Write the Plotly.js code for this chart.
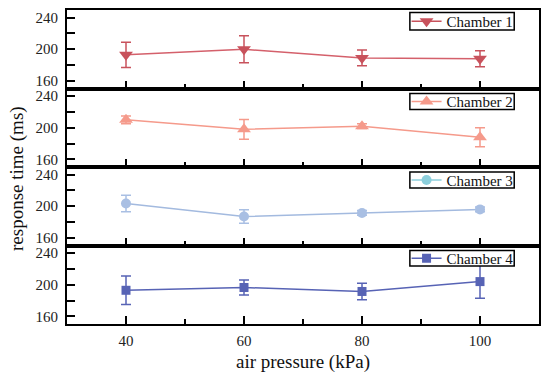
<!DOCTYPE html>
<html>
<head>
<meta charset="utf-8">
<script src="https://cdn.plot.ly/plotly-3.0.1.min.js"></script>
<style>html,body{margin:0;padding:0;background:#fff;}#chart{width:550px;height:383px;}</style>
</head>
<body>
<div id="chart"></div>
<script>
// Data
const pressure = [40, 60, 80, 100];
const chamberNames = ["Chamber 1", "Chamber 2", "Chamber 3", "Chamber 4"];
const chamber1 = [193, 200, 189, 188];
const chamber1Err = [16, 17, 10, 10];
const chamber2 = [210, 198, 202, 188];
const chamber2Err = [5, 12.5, 3, 12];
const chamber3 = [203.5, 187, 191.5, 196];
const chamber3Err = [10.5, 8.5, 3, 3];
const chamber4 = [193, 196.5, 191.5, 204];
const chamber4Err = [18, 9.5, 10.5, 21];
const yTickVals = [160, 200, 240];

const font = "Liberation Serif";
const series = [
  {y: chamber1, e: chamber1Err, color: "#c8525c", line: "#d4606b", legendColor: "#c8525c", symbol: "triangle-down", size: 12},
  {y: chamber2, e: chamber2Err, color: "#f59a8b", line: "#f59a8b", legendColor: "#f59a8b", symbol: "triangle-up", size: 12},
  {y: chamber3, e: chamber3Err, color: "#a9bfe3", line: "#a3badf", legendColor: "#8ccfdc", symbol: "circle", size: 10},
  {y: chamber4, e: chamber4Err, color: "#5763b5", line: "#5763b5", legendColor: "#5763b5", symbol: "square", size: 9}
];

// panel domains (paper fractions, plot area spans full top)
const domains = [[0.72685, 0.96914], [0.48457, 0.72685], [0.24228, 0.48457], [0, 0.24228]];
// legend frame boxes (paper fractions) and legend anchor tops
const boxX = [0.7264, 0.9475];
const boxY = [[0.90741, 0.96142], [0.66204, 0.71142], [0.41975, 0.46914], [0.17901, 0.22685]];
const legendTop = [0.98457, 0.73688, 0.49460, 0.25309];

const traces = [];
const layout = {
  width: 550, height: 383,
  margin: {l: 67, r: 11, t: 0, b: 59},
  paper_bgcolor: "#fff", plot_bgcolor: "#fff",
  font: {family: font, size: 15, color: "#222"},
  showlegend: true,
  shapes: [],
  annotations: [
    {text: "air pressure (kPa)", xref: "paper", yref: "paper", x: 0.5, y: -0.11728, xanchor: "center", yanchor: "middle", showarrow: false, font: {family: font, size: 19, color: "#111"}},
    {text: "response time (ms)", xref: "paper", yref: "paper", x: -0.106, y: 0.45062, xanchor: "center", yanchor: "middle", textangle: -90, showarrow: false, font: {family: font, size: 19, color: "#111"}}
  ]
};

series.forEach((s, i) => {
  const n = i + 1;
  const xa = n === 1 ? "x" : "x" + n;
  const ya = n === 1 ? "y" : "y" + n;
  const lg = n === 1 ? "legend" : "legend" + n;
  traces.push({
    type: "scatter", mode: "lines+markers",
    x: pressure, y: s.y, xaxis: xa, yaxis: ya,
    name: chamberNames[i], showlegend: false,
    line: {color: s.line, width: 1.5},
    marker: {color: s.color, symbol: s.symbol, size: s.size, line: {width: 0}},
    error_y: {type: "data", array: s.e, visible: true, color: s.color, thickness: 1.5, width: 5}
  });
  traces.push({
    type: "scatter", mode: "lines+markers",
    x: [null], y: [null], xaxis: xa, yaxis: ya,
    name: chamberNames[i], legend: lg, showlegend: true,
    line: {color: s.legendColor, width: 1.5},
    marker: {color: s.legendColor, symbol: s.symbol, size: s.size, line: {width: 0}}
  });
  layout[(n === 1 ? "xaxis" : "xaxis" + n)] = {
    domain: [0, 1], anchor: ya, range: [30, 110],
    tickmode: "linear", tick0: 0, dtick: 20,
    ticks: "inside", ticklen: 8, tickwidth: 2, tickcolor: "#000",
    minor: {ticks: "inside", dtick: 10, tick0: 0, ticklen: 5, tickwidth: 2, tickcolor: "#000"},
    showticklabels: n === 4, ticklabelstandoff: 2,
    showline: true, linewidth: 2, linecolor: "#000", mirror: true,
    showgrid: false, zeroline: false,
    tickfont: {family: font, size: 15, color: "#222"}
  };
  if (n !== 1) layout["xaxis" + n].matches = "x";
  layout[(n === 1 ? "yaxis" : "yaxis" + n)] = {
    domain: domains[i], anchor: xa, range: [150.3, 249.7],
    tickmode: "array", tickvals: yTickVals, ticktext: yTickVals.map(String),
    ticks: "inside", ticklen: 8, tickwidth: 2, tickcolor: "#000",
    minor: {ticks: "inside", dtick: 20, tick0: 0, ticklen: 8, tickwidth: 2, tickcolor: "#000"},
    ticklabelstandoff: 4,
    showline: true, linewidth: 2, linecolor: "#000", mirror: true,
    showgrid: false, zeroline: false,
    tickfont: {family: font, size: 15, color: "#222"}
  };
  layout[lg] = {
    x: boxX[0] - 0.007, y: legendTop[i], xanchor: "left", yanchor: "top",
    xref: "paper", yref: "paper",
    bgcolor: "rgba(0,0,0,0)", borderwidth: 0,
    font: {family: font, size: 15, color: "#111"},
    itemwidth: 30, tracegroupgap: 0
  };
  layout.shapes.push({
    type: "rect", xref: "paper", yref: "paper", layer: "above",
    x0: boxX[0], x1: boxX[1], y0: boxY[i][0], y1: boxY[i][1],
    fillcolor: "#fff", line: {color: "#000", width: 1.5}
  });
});

Plotly.newPlot("chart", traces, layout, {displayModeBar: false, staticPlot: true});
</script>
</body>
</html>
